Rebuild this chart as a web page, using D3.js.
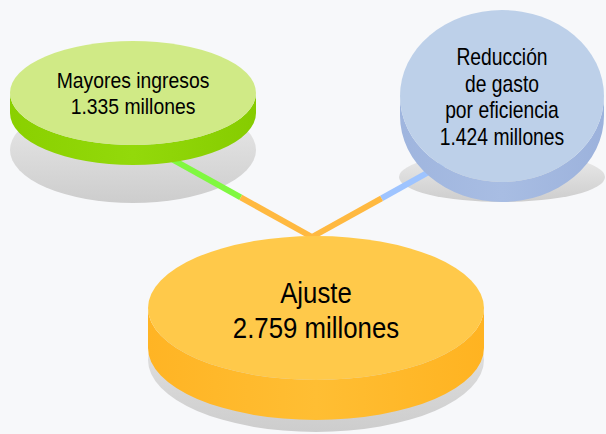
<!DOCTYPE html>
<html>
<head>
<meta charset="utf-8">
<script src="https://cdn.jsdelivr.net/npm/d3@7"></script>
<style>
  html, body { margin: 0; padding: 0; background: #f7f8fa; }
  svg { display: block; }
  text { font-family: "Liberation Sans", Arial, sans-serif; fill: #000; }
</style>
</head>
<body>
<script>
// data
const nodeIds = ['ingresos', 'gasto', 'ajuste'];
const nodeLabels = [['Mayores ingresos'], ['Reducción', 'de gasto', 'por eficiencia'], ['Ajuste']];
const nodeValues = [1335, 1424, 2759]; // millones
const links = [['ingresos', 'ajuste'], ['gasto', 'ajuste']];

// config (layout + styles)
const config = {
  width: 606,
  height: 434,
  lineWidth: 6,
  lineSplit: 0.44, // share of each link painted in the target colour
};

const layout = {
  ingresos: { cx: 133, cy: 93, rx: 123, ry: 52, depth: 20, shadow: { dy: 57, rx: 123, ry: 53 },
    font: 21.5, squeeze: 0.9, lineGap: 26, textDy: 0, end: [150, 147],
    face: '#d0ea86', side: ['#8ad000', '#93d90a', '#86cc00'], line: '#80f840' },
  gasto: { cx: 502, cy: 96, rx: 102, ry: 86, depth: 20, shadow: { dy: 81, rx: 103, ry: 25 },
    font: 23, squeeze: 0.84, lineGap: 26.5, textDy: 1, end: [470, 149],
    face: '#bdd0e9', side: ['#9fb5de', '#a8bde3', '#9cb2dc'], line: '#9ec4ff' },
  ajuste: { cx: 316, cy: 308, rx: 168, ry: 72, depth: 40, shadow: { dy: 52, rx: 168, ry: 72 },
    font: 30, squeeze: 0.86, lineGap: 35.5, textDy: 2, 
    face: '#ffc94a', side: ['#ffb424', '#ffbe33', '#ffb321'], line: '#ffb940' },
};

const fmt = d3.formatLocale({ decimal: ',', thousands: '.', grouping: [3], currency: ['', '€'] }).format(',d');

const nodes = nodeIds.map((id, i) => Object.assign({ id, lines: nodeLabels[i].concat(fmt(nodeValues[i]) + ' millones') }, layout[id]));
const byId = Object.fromEntries(nodes.map(n => [n.id, n]));

const svg = d3.select('body').append('svg')
  .attr('width', config.width)
  .attr('height', config.height);

const defs = svg.append('defs');

// shadow gradient
const sg = defs.append('linearGradient').attr('id', 'shadowGrad')
  .attr('x1', 0).attr('y1', 0).attr('x2', 0).attr('y2', 1);
sg.append('stop').attr('offset', '0%').attr('stop-color', '#ececec');
sg.append('stop').attr('offset', '100%').attr('stop-color', '#cdcdcd');

// side gradients
nodes.forEach(n => {
  const g = defs.append('linearGradient').attr('id', 'side-' + n.id)
    .attr('x1', 0).attr('y1', 0).attr('x2', 1).attr('y2', 0);
  g.append('stop').attr('offset', '0%').attr('stop-color', n.side[0]);
  g.append('stop').attr('offset', '50%').attr('stop-color', n.side[1]);
  g.append('stop').attr('offset', '100%').attr('stop-color', n.side[2]);
});

// layers to fake z-index
const layerShadow = svg.append('g');
const layerLinks = svg.append('g');
const layerDiscs = svg.append('g');

layerShadow.selectAll('ellipse')
  .data(nodes)
  .enter().append('ellipse')
  .attr('cx', d => d.cx)
  .attr('cy', d => d.cy + d.shadow.dy)
  .attr('rx', d => d.shadow.rx)
  .attr('ry', d => d.shadow.ry)
  .style('fill', 'url(#shadowGrad)');

// links: each one split in two colours
links.forEach(([src, tgt]) => {
  const s = byId[src], t = byId[tgt];
  const apex = [t.cx - 4, t.cy - t.ry + 1];
  const mid = d3.interpolateArray(apex, s.end)(config.lineSplit);
  const line = d3.line();
  layerLinks.append('path')
    .attr('d', line([s.end, mid]))
    .style('stroke', s.line)
    .style('stroke-width', config.lineWidth)
    .style('fill', 'none');
  layerLinks.append('path')
    .attr('d', line([mid, apex]))
    .style('stroke', t.line)
    .style('stroke-width', config.lineWidth)
    .style('stroke-linejoin', 'round')
    .style('fill', 'none');
});

// discs
const disc = layerDiscs.selectAll('.disc')
  .data(nodes)
  .enter().append('g')
  .attr('class', 'disc');

disc.append('path')
  .attr('d', d => {
    const l = d.cx - d.rx, r = d.cx + d.rx;
    return `M ${l} ${d.cy} L ${l} ${d.cy + d.depth} A ${d.rx} ${d.ry} 0 0 0 ${r} ${d.cy + d.depth} L ${r} ${d.cy} A ${d.rx} ${d.ry} 0 0 1 ${l} ${d.cy} Z`;
  })
  .style('fill', d => `url(#side-${d.id})`);

disc.append('ellipse')
  .attr('cx', d => d.cx)
  .attr('cy', d => d.cy)
  .attr('rx', d => d.rx)
  .attr('ry', d => d.ry)
  .style('fill', d => d.face);

disc.append('text')
  .attr('transform', d => `translate(${d.cx},${d.cy + d.textDy}) scale(${d.squeeze},1)`)
  .style('font-size', d => d.font + 'px')
  .attr('text-anchor', 'middle')
  .each(function (d) {
    const t = d3.select(this);
    const n = d.lines.length;
    d.lines.forEach((s, i) => {
      t.append('tspan')
        .attr('x', 0)
        .attr('y', (i - (n - 1) / 2) * d.lineGap)
        .attr('dy', '0.35em')
        .text(s);
    });
  });
</script>
</body>
</html>
